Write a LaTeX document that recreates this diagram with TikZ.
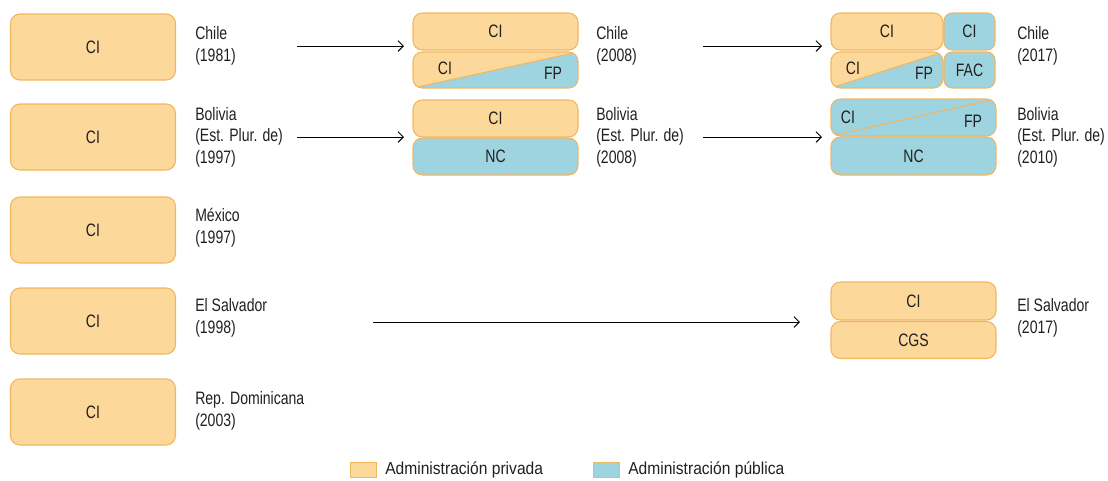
\documentclass[tikz,border=0pt]{standalone}
\usepackage{fontspec}
\setmainfont{Liberation Sans}[FakeStretch=0.9]
\newfontfamily\condfont{Liberation Sans}[FakeStretch=0.78]
\usetikzlibrary{arrows.meta}
\definecolor{orfill}{HTML}{FCD89B}
\definecolor{orline}{HTML}{F2B660}
\definecolor{blfill}{HTML}{9DD4E0}
\definecolor{txt}{HTML}{231F20}
\tikzset{
  base/.style={draw=orline, line width=0.8pt, rounded corners=7pt, inner sep=0pt, text=txt, font=\condfont\fontsize{13.5}{15}\selectfont},
  priv/.style={base, fill=orfill},
  publ/.style={base, fill=blfill},
  splitor/.style={base, fill=blfill, path picture={
      \fill[orfill] (path picture bounding box.south west) -- (path picture bounding box.north east) -- (path picture bounding box.north west) -- cycle;
      \draw[orline, line width=0.8pt] (path picture bounding box.south west) -- (path picture bounding box.north east);}},
  splitbl/.style={base, fill=blfill, path picture={
      \draw[orline, line width=0.8pt] (path picture bounding box.south west) -- (path picture bounding box.north east);}},
  lbl/.style={anchor=west, align=left, inner sep=0pt, text=txt, font=\condfont\fontsize{13.5}{16.2}\selectfont},
  leg/.style={anchor=west, inner sep=0pt, text=txt, font=\fontsize{13}{14}\selectfont},
  inl/.style={inner sep=0pt, text=txt, font=\condfont\fontsize{13.5}{15}\selectfont},
  arr/.style={-{Straight Barb[length=4pt,width=8pt]}, line width=0.7pt, black},
  sw/.style={draw=orline, line width=0.8pt, minimum width=20pt, minimum height=11pt, inner sep=0pt}
}
\begin{document}
\begin{tikzpicture}[x=0.75pt,y=-0.75pt]
\useasboundingbox (0,0) rectangle (1108,480);
% left column
\foreach \n/\y in {a/47,b/137,c/230,d/321,e/412}{
  \node[priv, minimum width=123.75pt, minimum height=49.5pt] (L\n) at (93,\y) {CI};
}
\node[lbl] (tA) at (195,46) {Chile\\(1981)};
\node[lbl] (tB) at (195,137) {Bolivia\\(Est. Plur. de)\\(1997)};
\node[lbl] (tC) at (195,228) {México\\(1997)};
\node[lbl] (tD) at (195,318) {El Salvador\\(1998)};
\node[lbl] (tE) at (195,411) {Rep. Dominicana\\(2003)};
% middle column
\node[priv, minimum width=123.75pt, minimum height=27.75pt] (M1) at (495.5,31.5) {CI};
\node[splitor, minimum width=123.75pt, minimum height=27pt] (M2) at (495.5,70) {};
\node[inl] (M2a) at (445,68) {CI};
\node[inl] (M2b) at (553,73) {FP};
\node[priv, minimum width=123.75pt, minimum height=27.75pt] (M3) at (495.5,118.5) {CI};
\node[publ, minimum width=123.75pt, minimum height=27.75pt] (M4) at (495.5,156.5) {NC};
\node[lbl] (tM1) at (596,46) {Chile\\(2008)};
\node[lbl] (tM2) at (596,137) {Bolivia\\(Est. Plur. de)\\(2008)};
% right column
\node[priv, minimum width=84pt, minimum height=27.75pt] (R1) at (887,31.5) {CI};
\node[publ, rounded corners=6pt, minimum width=38.25pt, minimum height=27.75pt] (R2) at (969.5,31.5) {CI};
\node[splitor, minimum width=84pt, minimum height=27pt] (R3) at (887,70) {};
\node[inl] (R3a) at (853,68) {CI};
\node[inl] (R3b) at (924,73) {FP};
\node[publ, rounded corners=6pt, minimum width=38.25pt, minimum height=27pt] (R4) at (969.5,70) {FAC};
\node[splitbl, minimum width=123.75pt, minimum height=27.75pt] (R5) at (913.5,117.5) {};
\node[inl] (R5a) at (848,117) {CI};
\node[inl] (R5b) at (973,121) {FP};
\node[publ, minimum width=123.75pt, minimum height=28.5pt] (R6) at (913.5,156) {NC};
\node[priv, minimum width=123.75pt, minimum height=28.5pt] (R7) at (913.5,301) {CI};
\node[priv, minimum width=123.75pt, minimum height=27.75pt] (R8) at (913.5,340) {CGS};
\node[lbl] (tR1) at (1017,46) {Chile\\(2017)};
\node[lbl] (tR2) at (1017,137) {Bolivia\\(Est. Plur. de)\\(2010)};
\node[lbl] (tR3) at (1017,318) {El Salvador\\(2017)};
% arrows
\coordinate (a1s) at (297,46); \coordinate (a1e) at (404,46);
\coordinate (a2s) at (703,46); \coordinate (a2e) at (822,46);
\coordinate (a3s) at (297,137); \coordinate (a3e) at (404,137);
\coordinate (a4s) at (703,137); \coordinate (a4e) at (822,137);
\coordinate (a5s) at (373,322); \coordinate (a5e) at (800,322);
\draw[arr] (a1s) -- (a1e);
\draw[arr] (a2s) -- (a2e);
\draw[arr] (a3s) -- (a3e);
\draw[arr] (a4s) -- (a4e);
\draw[arr] (a5s) -- (a5e);
% legend
\node[sw, fill=orfill] (s1) at (363.5,470) {};
\node[leg] (l1) at (385,470) {Administración privada};
\node[sw, fill=blfill] (s2) at (606.5,470) {};
\node[leg] (l2) at (628,470) {Administración pública};
\end{tikzpicture}
\end{document}
